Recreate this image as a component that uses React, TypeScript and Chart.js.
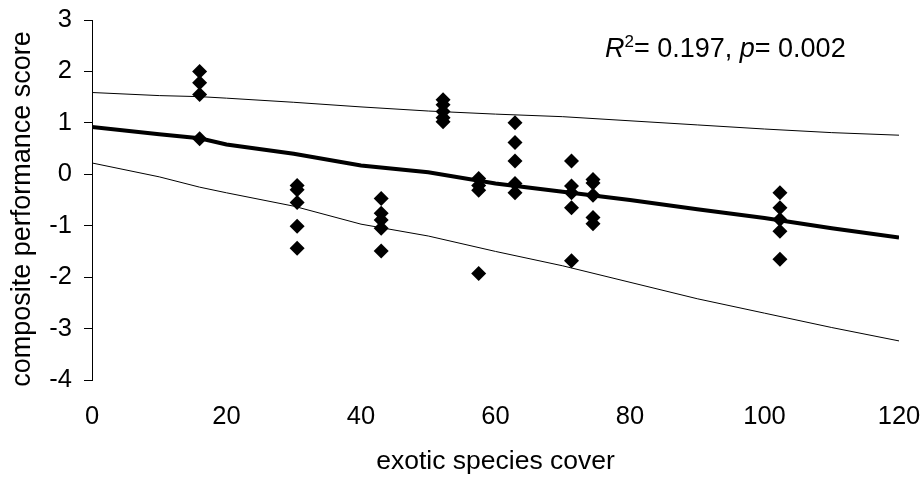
import React, { useEffect, useRef } from "react";
import { Chart, registerables } from "chart.js";

Chart.register(...registerables);

// Observed data (exotic species cover, composite performance score)
const coverX: number[] = [
  16, 16, 16, 16,
  30.5, 30.5, 30.5, 30.5, 30.5,
  43, 43, 43, 43, 43,
  52.2, 52.2, 52.2, 52.2, 52.2,
  57.5, 57.5, 57.5, 57.5,
  62.9, 62.9, 62.9, 62.9, 62.9,
  71.3, 71.3, 71.3, 71.3, 71.3,
  74.5, 74.5, 74.5, 74.5, 74.5,
  102.3, 102.3, 102.3, 102.3, 102.3,
];
const scoreY: number[] = [
  2.0, 1.78, 1.55, 0.69,
  -0.22, -0.3, -0.55, -1.01, -1.44,
  -0.47, -0.76, -0.89, -1.05, -1.49,
  1.45, 1.35, 1.22, 1.1, 1.02,
  -0.08, -0.22, -0.31, -1.93,
  1.0, 0.62, 0.26, -0.18, -0.36,
  0.26, -0.23, -0.36, -0.65, -1.68,
  -0.1, -0.17, -0.41, -0.84, -0.96,
  -0.36, -0.65, -0.88, -1.11, -1.65,
];

// Regression line and prediction bands
const lineX: number[] = [0, 10, 16, 20, 30, 40, 50, 60, 70, 80, 90, 100, 110, 120];
const fitY: number[] = [0.92, 0.78, 0.7, 0.58, 0.4, 0.17, 0.04, -0.18, -0.34, -0.5, -0.68, -0.85, -1.05, -1.23];
const upperY: number[] = [1.59, 1.53, 1.51, 1.48, 1.4, 1.31, 1.23, 1.17, 1.12, 1.04, 0.96, 0.88, 0.81, 0.76];
const lowerY: number[] = [0.22, -0.05, -0.25, -0.36, -0.62, -0.97, -1.2, -1.5, -1.78, -2.1, -2.42, -2.7, -2.98, -3.24];

const xTicks: number[] = [0, 20, 40, 60, 80, 100, 120];
const yTicks: number[] = [-4, -3, -2, -1, 0, 1, 2, 3];

const xTitle = "exotic species cover";
const yTitle = "composite performance score";

const FONT = "'Liberation Sans', Arial, sans-serif";

const textPlugin = {
  id: "statsText",
  afterDraw(chart: any) {
    const ctx = chart.ctx;
    ctx.save();
    ctx.fillStyle = "#000";
    ctx.textBaseline = "alphabetic";
    ctx.textAlign = "left";
    let x = 605;
    const y = 57;
    const parts: { t: string; f: string; dy: number }[] = [
      { t: "R", f: `italic 27px ${FONT}`, dy: 0 },
      { t: "2", f: `17px ${FONT}`, dy: -10 },
      { t: "= 0.197, ", f: `27px ${FONT}`, dy: 0 },
      { t: "p", f: `italic 27px ${FONT}`, dy: 0 },
      { t: "= 0.002", f: `27px ${FONT}`, dy: 0 },
    ];
    for (const p of parts) {
      ctx.font = p.f;
      ctx.fillText(p.t, x, y + p.dy);
      x += ctx.measureText(p.t).width;
    }
    // y-axis title
    ctx.translate(23, 209);
    ctx.rotate(-Math.PI / 2);
    ctx.font = `27px ${FONT}`;
    ctx.textAlign = "center";
    ctx.textBaseline = "middle";
    ctx.fillText(yTitle, 0, 0);
    ctx.restore();
  },
};

const zeroPad = (s: any) => {
  s.paddingTop = 0;
  s.paddingBottom = 0;
  s.paddingLeft = 0;
  s.paddingRight = 0;
};

export default function App() {
  const ref = useRef<HTMLCanvasElement | null>(null);

  useEffect(() => {
    if (!ref.current) return;
    const points = coverX.map((x, i) => ({ x, y: scoreY[i] }));
    const mk = (ys: number[]) => lineX.map((x, i) => ({ x, y: ys[i] }));
    const chart = new Chart(ref.current, {
      type: "scatter",
      data: {
        datasets: [
          {
            data: points,
            pointStyle: "rectRot",
            pointRadius: 7.5,
            backgroundColor: "#000",
            borderColor: "#000",
            borderWidth: 0,
            showLine: false,
            order: 0,
          },
          {
            data: mk(fitY),
            showLine: true,
            pointRadius: 0,
            borderColor: "#000",
            borderWidth: 4,
            order: 1,
          },
          {
            data: mk(upperY),
            showLine: true,
            pointRadius: 0,
            borderColor: "#000",
            borderWidth: 1,
            order: 2,
          },
          {
            data: mk(lowerY),
            showLine: true,
            pointRadius: 0,
            borderColor: "#000",
            borderWidth: 1,
            order: 2,
          },
        ],
      },
      options: {
        animation: false,
        responsive: false,
        events: [],
        layout: { padding: { left: 0, right: 24, top: 20, bottom: 0 } },
        plugins: { legend: { display: false }, tooltip: { enabled: false } },
        scales: {
          x: {
            type: "linear",
            min: 0,
            max: 120,
            afterBuildTicks: (s: any) => {
              s.ticks = xTicks.map((v) => ({ value: v }));
            },
            afterFit: (s: any) => {
              s.height = 98;
              zeroPad(s);
            },
            grid: { display: false },
            border: { display: false },
            ticks: {
              color: "#000",
              padding: 14,
              maxRotation: 0,
              font: { family: FONT, size: 25.5 },
            },
            title: {
              display: true,
              text: xTitle,
              color: "#000",
              font: { family: FONT, size: 26.5 },
              padding: { top: 0, bottom: 0 },
            },
          },
          y: {
            type: "linear",
            min: -4,
            max: 3,
            afterBuildTicks: (s: any) => {
              s.ticks = yTicks.map((v) => ({ value: v }));
            },
            afterFit: (s: any) => {
              s.width = 92;
              zeroPad(s);
            },
            grid: {
              drawOnChartArea: false,
              drawTicks: true,
              tickLength: 8,
              color: "#000",
            },
            border: { display: true, color: "#000", width: 1 },
            ticks: {
              color: "#000",
              padding: 12,
              font: { family: FONT, size: 25.5 },
            },
            title: { display: false },
          },
        },
      },
      plugins: [textPlugin],
    } as any);
    return () => chart.destroy();
  }, []);

  return (
    <div style={{ position: "absolute", left: 0, top: 0, width: 923, height: 478, background: "#fff" }}>
      <canvas ref={ref} width={923} height={478} style={{ display: "block" }} />
    </div>
  );
}
